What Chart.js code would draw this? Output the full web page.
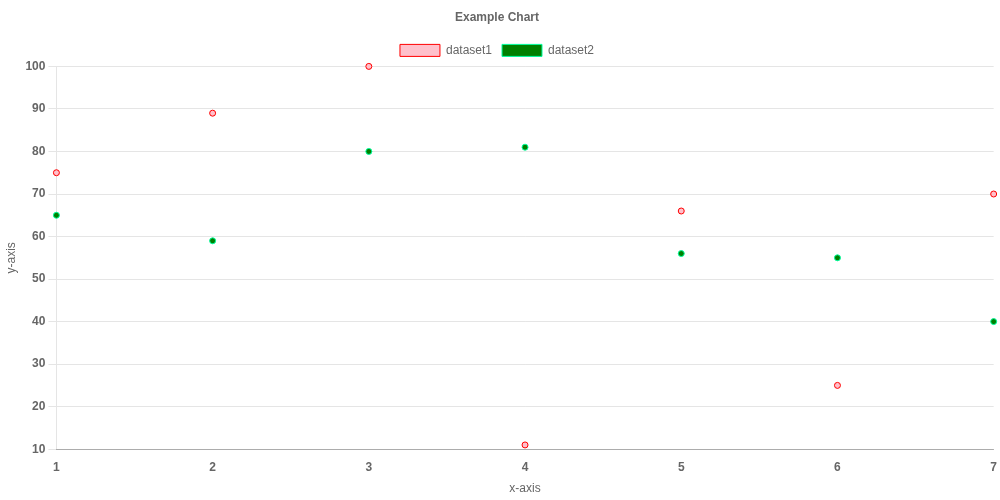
<!DOCTYPE html>
<html>
<head>
<meta charset="utf-8">
<style>
html,body{margin:0;padding:0;background:#fff;}
#wrap{width:1000px;height:500px;}
</style>
<script src="https://cdn.jsdelivr.net/npm/chart.js@4/dist/chart.umd.min.js"></script>
</head>
<body>
<div id="wrap"><canvas id="c"></canvas></div>
<script>
const xValues = [1, 2, 3, 4, 5, 6, 7];
const dataset1Values = [75, 89, 100, 11, 66, 25, 70];
const dataset2Values = [65, 59, 80, 81, 56, 55, 40];
const seriesNames = ['dataset1', 'dataset2'];

Chart.defaults.font.family = "'Liberation Sans', Arial, sans-serif";
Chart.defaults.font.size = 12;
Chart.defaults.color = '#666';

new Chart(document.getElementById('c'), {
  type: 'scatter',
  data: {
    datasets: [
      {
        label: seriesNames[0],
        data: xValues.map((x, i) => ({x: x, y: dataset1Values[i]})),
        backgroundColor: 'pink',
        borderColor: 'red',
        borderWidth: 1,
        pointRadius: 3,
        clip: false
      },
      {
        label: seriesNames[1],
        data: xValues.map((x, i) => ({x: x, y: dataset2Values[i]})),
        backgroundColor: 'green',
        borderColor: 'rgb(0,255,160)',
        borderWidth: 1,
        pointRadius: 3,
        clip: false
      }
    ]
  },
  options: {
    responsive: true,
    maintainAspectRatio: false,
    animation: false,
    layout: {padding: {left: 0, right: 6, top: 0, bottom: 0}},
    plugins: {
      title: {display: true, text: 'Example Chart', font: {size: 12, weight: 'bold'}, padding: {top: 10, bottom: 10}},
      legend: {display: true, labels: {boxWidth: 40, boxHeight: 12, padding: 10}}
    },
    scales: {
      x: {
        type: 'linear',
        min: 1, max: 7,
        grid: {display: false},
        border: {display: true, color: 'rgba(0,0,0,0.25)'},
        ticks: {stepSize: 1, font: {weight: 'bold'}},
        title: {display: true, text: 'x-axis'}
      },
      y: {
        min: 10, max: 100,
        grid: {color: 'rgba(0,0,0,0.1)', tickLength: 8},
        border: {display: true, color: 'rgba(0,0,0,0.1)'},
        ticks: {stepSize: 10, font: {weight: 'bold'}},
        title: {display: true, text: 'y-axis'}
      }
    }
  }
});
</script>
</body>
</html>
